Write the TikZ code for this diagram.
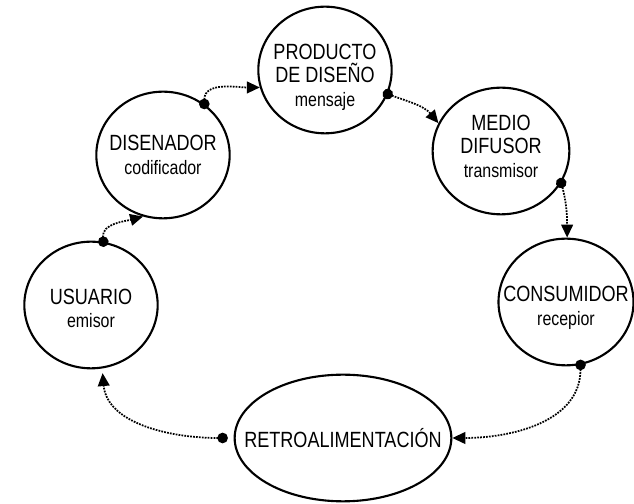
\documentclass[tikz,border=0pt]{standalone}
\usepackage{fontspec}
\setsansfont{Liberation Sans}[FakeStretch=0.82]
\usepackage{tikz}
\usetikzlibrary{shapes.geometric, arrows.meta, positioning}
\tikzstyle{flow} = [line width=1.5pt, densely dotted, shorten <=-4.5pt, {Circle[length=9pt]}-{Triangle[length=11pt, width=10pt]}]
\newcommand{\rolefont}{\fontsize{16.6}{20}\selectfont}

\begin{document}
\begin{tikzpicture}[
		x=0.03cm, y=0.03cm,
		stage/.style={ellipse, draw, line width=1.8pt, inner sep=0pt, minimum width=#1, minimum height=3.8cm},
		stage/.default=4cm,
		stagetext/.style={inner sep=0pt, align=center},
		font=\sffamily\fontsize{18.8}{20}\selectfont
		]
		\useasboundingbox (0,0) rectangle (634,504);
		% Usuario
		\node[stage] (usuario) at (91,199) {};
		\node[stagetext, yshift=-0.1cm] (usuariotxt) at (usuario) {USUARIO\\{\rolefont emisor}};
		% Disenador
		\node[stage] (disenador) at (163,349) {};
		\node[stagetext] (disenadortxt) at (disenador) {DISENADOR\\{\rolefont codificador}};
		% Producto
		\node[stage] (producto) at (325,434) {};
		\node[stagetext, yshift=-0.22cm] (productotxt) at (producto) {PRODUCTO\\DE DISEÑO\\{\rolefont mensaje}};
		% Medio
		\node[stage=4.1cm] (medio) at (501,353) {};
		\node[stagetext, yshift=0.15cm] (mediotxt) at (medio) {MEDIO\\DIFUSOR\\{\rolefont transmisor}};
		% Consumidor
		\node[stage=4.05cm] (consumidor) at (566,202) {};
		\node[stagetext, yshift=-0.18cm] (consumidortxt) at (consumidor) {CONSUMIDOR\\{\rolefont recepior}};
		% Retroalimentacion
		\node[stage=6.5cm] (retro) at (343,66) {};
		\node[stagetext] (retrotxt) at (retro) {RETROALIMENTACIÓN};
		\coordinate[left=0.33cm of retro] (retroout);
		% Flujo
		\draw[flow] (usuario.79) to[out=95, in=195] (disenador.252);
		\draw[flow] (disenador.51) to[out=90, in=180] (producto.195);
		\draw[flow] (producto.-21) to[out=-20, in=130] (medio.156);
		\draw[flow] (medio.-28) to[out=-75, in=90] (consumidor.89);
		\draw[flow] (consumidor.-77) to[out=-90, in=0] (retro.east);
		\draw[flow, shorten >=4pt] (retroout) to[out=180, in=-85] (usuario.-80);
	\end{tikzpicture}
\end{document}
